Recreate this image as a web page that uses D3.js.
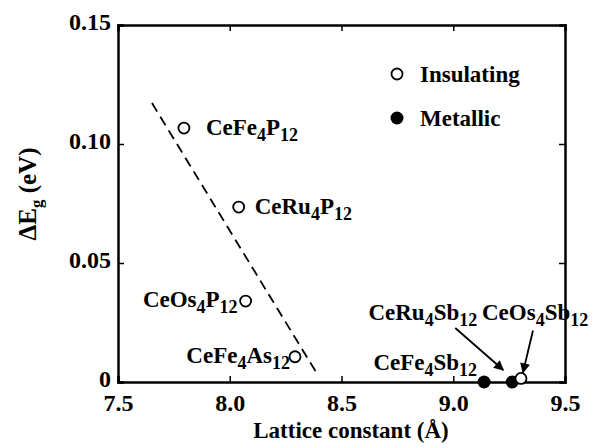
<!DOCTYPE html>
<html>
<head>
<meta charset="utf-8">
<script src="https://cdn.jsdelivr.net/npm/d3@7"></script>
<style>
  body { margin: 0; background: #fff; }
  text { font-family: "Liberation Serif", "Times New Roman", serif; font-weight: bold; fill: #000; }
</style>
</head>
<body>
<svg id="chart"></svg>
<script>
// compounds, lattice constant (Å) and gap difference (eV)
const names = ["CeFe4P12", "CeRu4P12", "CeOs4P12", "CeFe4As12", "CeFe4Sb12", "CeRu4Sb12", "CeOs4Sb12"];
const lattice = [7.795, 8.04, 8.071, 8.292, 9.138, 9.264, 9.303];
const deltaEg = [0.1067, 0.0735, 0.034, 0.0106, 0, 0, 0.0015];
const metallic = [false, false, false, false, true, true, false];

// dashed guide line end points
const guideX = [7.652, 8.386];
const guideY = [0.1172, 0.0042];

const xTicks = [7.5, 8.0, 8.5, 9.0, 9.5];
const yTicks = [0, 0.05, 0.10, 0.15];
const xTickLabels = ["7.5", "8.0", "8.5", "9.0", "9.5"];
const yTickLabels = ["0", "0.05", "0.10", "0.15"];

// label placement relative to each point (pixels)
const labelPos = {
    CeFe4P12:  { dx: 22, dy: 7, anchor: "start" },
    CeRu4P12:  { dx: 16, dy: 7, anchor: "start" },
    CeOs4P12:  { dx: -8, dy: 6, anchor: "end" },
    CeFe4As12: { dx: -5, dy: 6, anchor: "end" },
    CeFe4Sb12: { dx: -7, dy: -12, anchor: "end" },
    CeRu4Sb12: { dx: -35, dy: -62, anchor: "end" },
    CeOs4Sb12: { dx: -39, dy: -58, anchor: "start" }
};
// arrows: start/end offsets relative to the point
const arrows = {
    CeRu4Sb12: { x1: -57, y1: -54, x2: -9, y2: -12 },
    CeOs4Sb12: { x1: 12, y1: -48, x2: 2, y2: -6 }
};

const width = 593, height = 448;
const margin = { top: 25, right: 28, bottom: 66, left: 118 };
const w = width - margin.left - margin.right;
const h = height - margin.top - margin.bottom;

const svg = d3.select("#chart")
    .attr("width", width)
    .attr("height", height);

const defs = svg.append("defs");
defs.append("marker")
    .attr("id", "arrowhead")
    .attr("viewBox", "0 0 10 10")
    .attr("refX", 9)
    .attr("refY", 5)
    .attr("markerWidth", 11)
    .attr("markerHeight", 10)
    .attr("markerUnits", "userSpaceOnUse")
    .attr("orient", "auto")
  .append("path")
    .attr("d", "M0,0 L10,5 L0,10 Z")
    .attr("fill", "#000");

const chart = svg.append("g")
    .attr("transform", `translate(${margin.left},${margin.top})`);

const xScale = d3.scaleLinear().domain([7.5, 9.5]).range([0, w]);
const yScale = d3.scaleLinear().domain([0, 0.15]).range([h, 0]);

// Axes with inward ticks, on all four sides
const xAxis = d3.axisBottom(xScale).tickValues(xTicks).tickSize(-6).tickPadding(12)
    .tickFormat((d, i) => xTickLabels[i]);
const yAxis = d3.axisLeft(yScale).tickValues(yTicks).tickSize(-6).tickPadding(7)
    .tickFormat((d, i) => yTickLabels[i]);
const xAxisTop = d3.axisTop(xScale).tickValues(xTicks).tickSize(-6).tickFormat("");
const yAxisRight = d3.axisRight(yScale).tickValues(yTicks).tickSize(-6).tickFormat("");

function styleAxis(g) {
    g.select(".domain").attr("stroke", "#000").attr("stroke-width", 2.5);
    g.selectAll(".tick line").attr("stroke", "#000").attr("stroke-width", 1.5);
    g.selectAll(".tick text")
        .attr("font-size", 24)
        .attr("fill", "#000");
}

chart.append("g").attr("transform", `translate(0,${h})`).call(xAxis).call(styleAxis);
chart.append("g").call(yAxis).call(styleAxis)
    .selectAll(".tick text").attr("dy", "0.18em");
chart.append("g").call(xAxisTop).call(styleAxis);
chart.append("g").attr("transform", `translate(${w},0)`).call(yAxisRight).call(styleAxis);

// Dashed guide line
const line = d3.line().x(d => xScale(d[0])).y(d => yScale(d[1]));
chart.append("path")
    .datum(d3.zip(guideX, guideY))
    .attr("d", line)
    .attr("fill", "none")
    .attr("stroke", "#000")
    .attr("stroke-width", 1.8)
    .attr("stroke-dasharray", "10,6");

// Points
const points = names.map((n, i) => ({ name: n, x: lattice[i], y: deltaEg[i], metal: metallic[i] }));

chart.selectAll(".pt")
    .data(points)
    .join("circle")
    .attr("class", "pt")
    .attr("cx", d => xScale(d.x))
    .attr("cy", d => yScale(d.y))
    .attr("r", d => d.metal ? 6.5 : 5.5)
    .attr("fill", d => d.metal ? "#000" : "#fff")
    .attr("stroke", "#000")
    .attr("stroke-width", d => d.metal ? 0 : 1.8);

// Chemical formula: digits become subscripts
function formula(textSel, name) {
    const parts = name.match(/\d+|\D+/g);
    let sub = false;
    parts.forEach(p => {
        const isNum = /\d/.test(p);
        const t = textSel.append("tspan").text(p);
        if (isNum && !sub) { t.attr("dy", 6).attr("font-size", 18); sub = true; }
        else if (isNum && sub) { t.attr("font-size", 18); }
        else if (!isNum && sub) { t.attr("dy", -6); sub = false; }
    });
}

chart.selectAll(".lbl")
    .data(points)
    .join("text")
    .attr("class", "lbl")
    .attr("x", d => xScale(d.x) + labelPos[d.name].dx)
    .attr("y", d => yScale(d.y) + labelPos[d.name].dy)
    .attr("text-anchor", d => labelPos[d.name].anchor)
    .attr("font-size", 23)
    .each(function(d) { formula(d3.select(this), d.name); });

// Arrows
chart.selectAll(".arrow")
    .data(points.filter(d => arrows[d.name]))
    .join("line")
    .attr("class", "arrow")
    .attr("x1", d => xScale(d.x) + arrows[d.name].x1)
    .attr("y1", d => yScale(d.y) + arrows[d.name].y1)
    .attr("x2", d => xScale(d.x) + arrows[d.name].x2)
    .attr("y2", d => yScale(d.y) + arrows[d.name].y2)
    .attr("stroke", "#000")
    .attr("stroke-width", 1.8)
    .attr("marker-end", "url(#arrowhead)");

// Legend
const legendItems = ["Insulating", "Metallic"];
const legend = chart.append("g").attr("transform", `translate(${397 - margin.left},${74 - margin.top})`);
legendItems.forEach((label, i) => {
    const g = legend.append("g").attr("transform", `translate(0,${i * 44})`);
    g.append("circle")
        .attr("r", i === 0 ? 5.5 : 6.5)
        .attr("fill", i === 0 ? "#fff" : "#000")
        .attr("stroke", "#000")
        .attr("stroke-width", i === 0 ? 1.8 : 0);
    g.append("text")
        .attr("x", 23)
        .attr("y", 8)
        .attr("font-size", 23)
        .text(label);
});

// Axis titles
svg.append("text")
    .attr("x", 351)
    .attr("y", 438)
    .attr("text-anchor", "middle")
    .attr("font-size", 23)
    .text("Lattice constant (Å)");

const yTitle = svg.append("text")
    .attr("transform", `translate(36,194) rotate(-90)`)
    .attr("text-anchor", "middle")
    .attr("font-size", 25);
yTitle.append("tspan").text("ΔE");
yTitle.append("tspan").attr("dy", 6).attr("font-size", 17).text("g");
yTitle.append("tspan").attr("dy", -6).text(" (eV)");
</script>
</body>
</html>
